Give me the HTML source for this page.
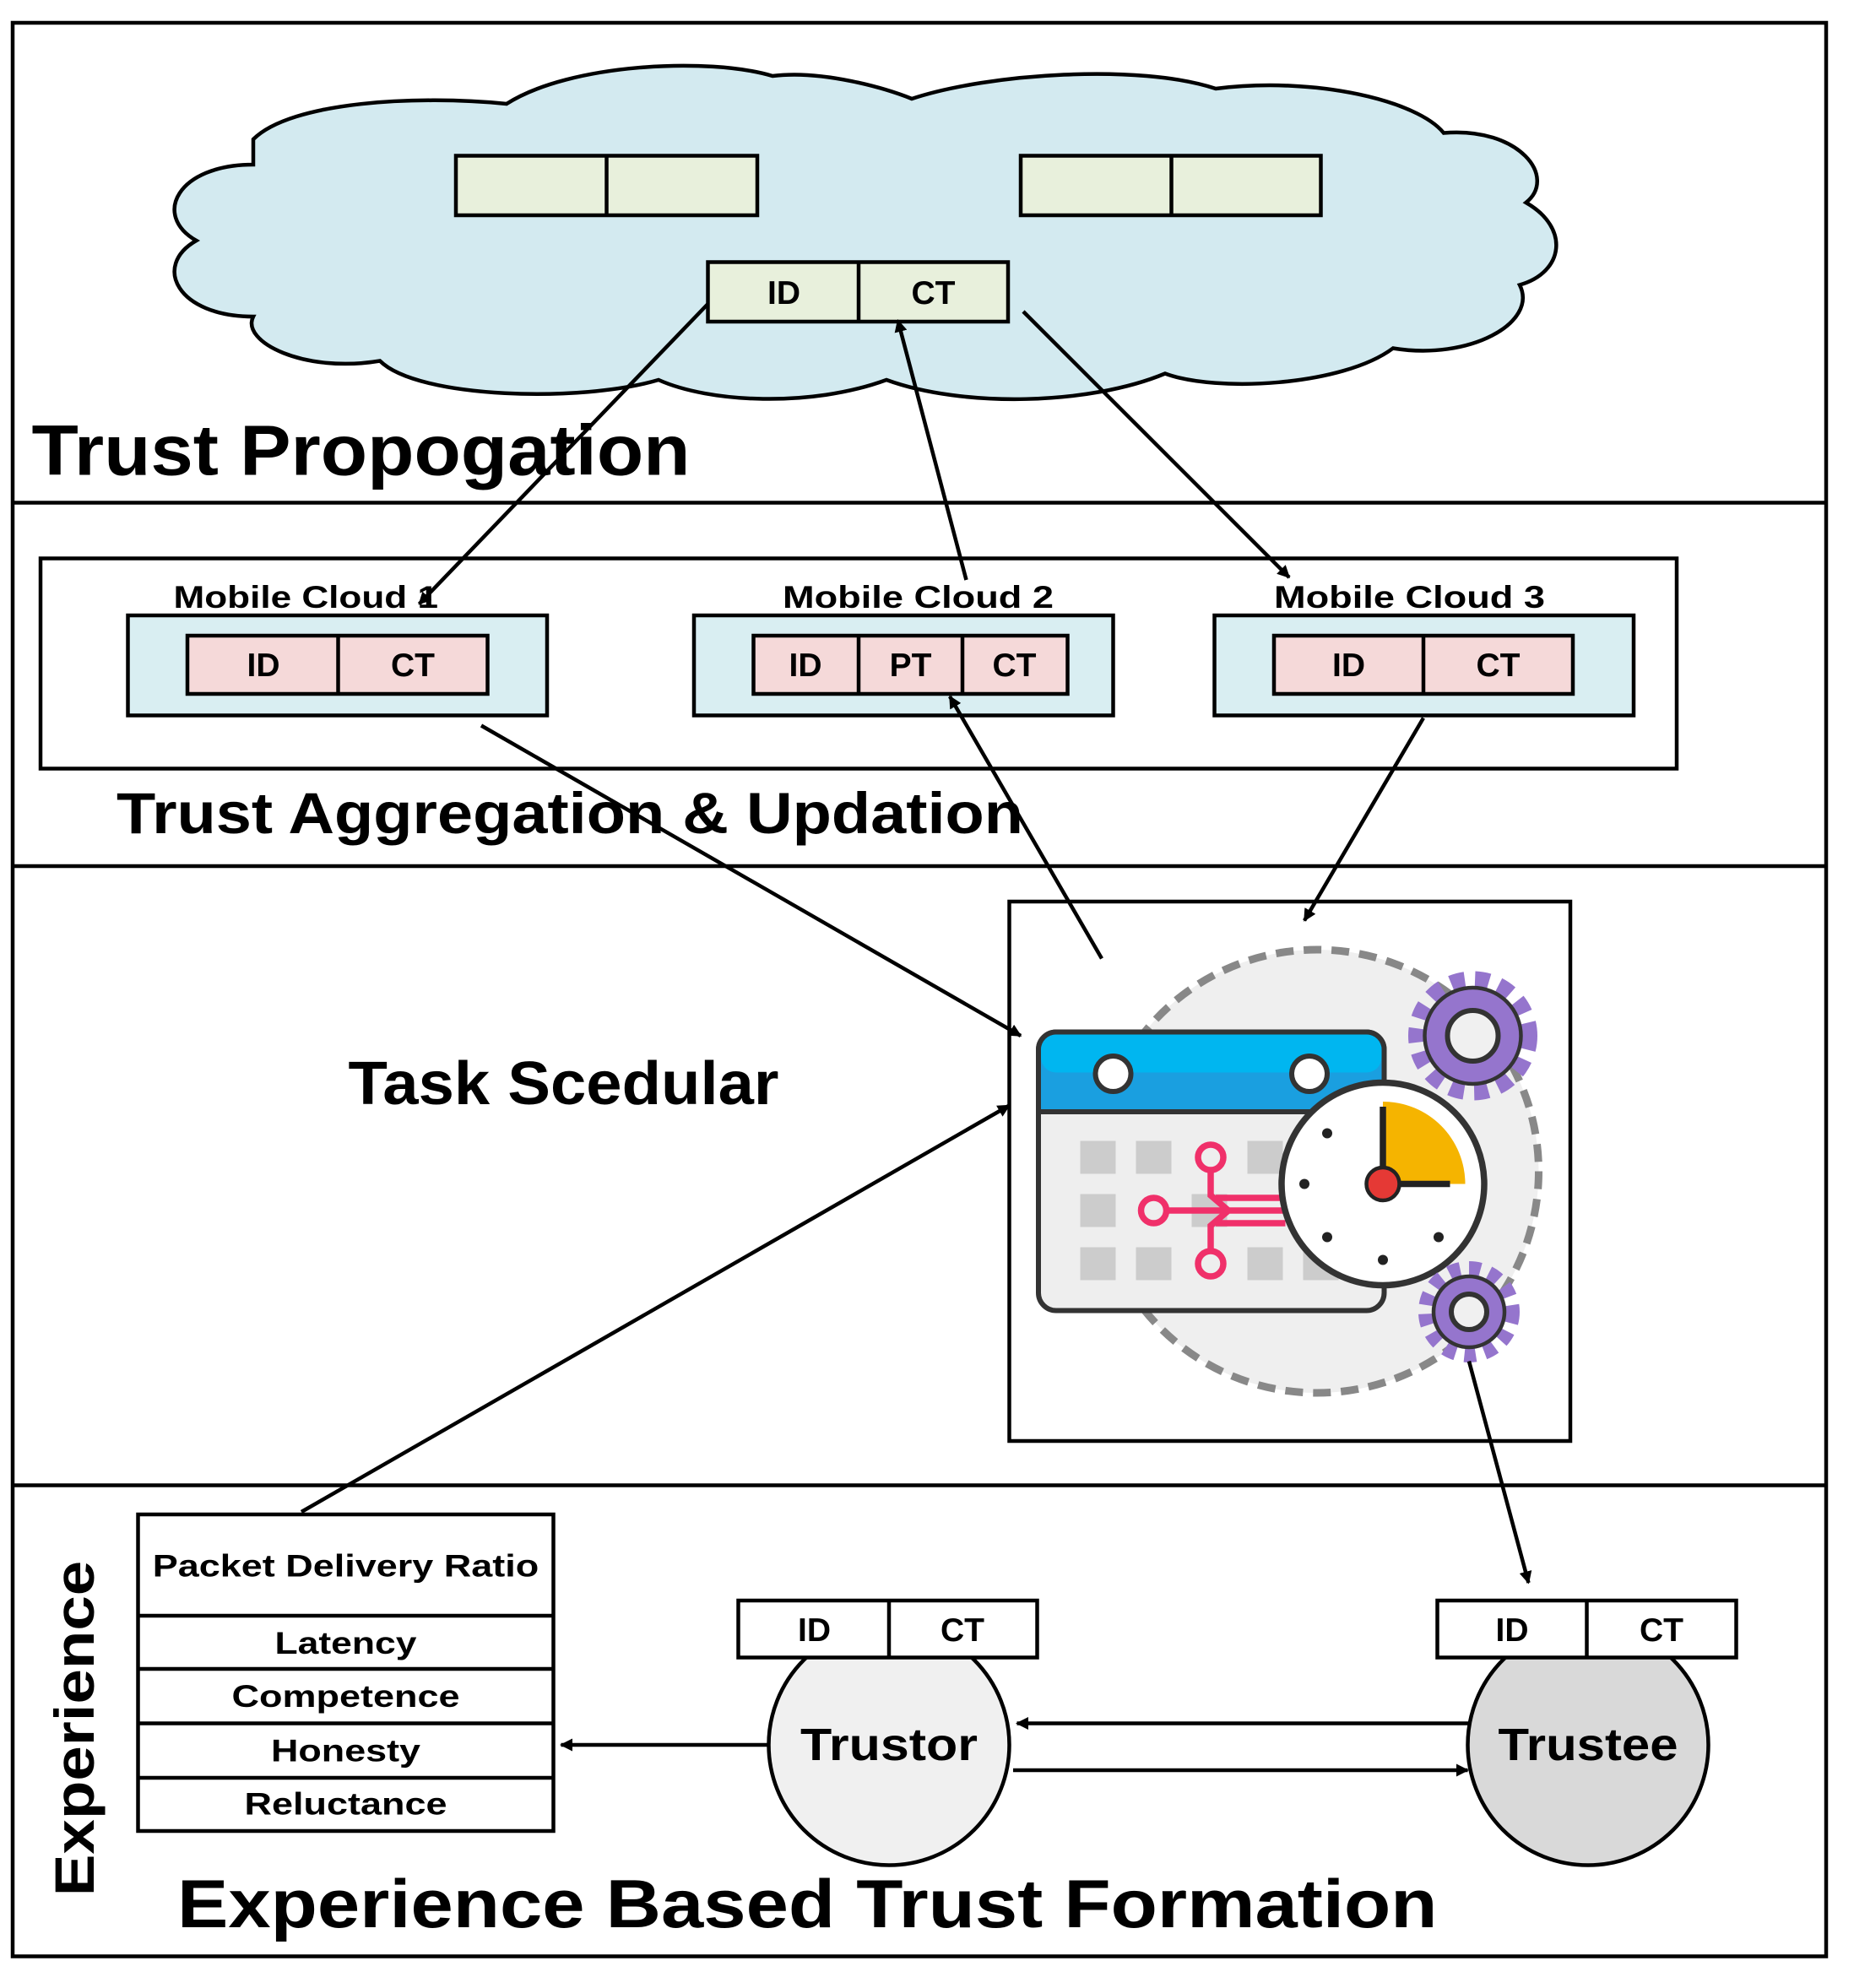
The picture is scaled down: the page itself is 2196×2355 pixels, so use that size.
<!DOCTYPE html>
<html><head><meta charset="utf-8"><style>
html,body{margin:0;padding:0;background:#fff;}
svg{display:block;}
text{font-family:"Liberation Sans",Arial,sans-serif;font-weight:bold;fill:#000;}
</style></head><body>
<svg width="2196" height="2355" viewBox="0 0 1464 1570" xmlns="http://www.w3.org/2000/svg">
<defs>
<marker id="ah" markerWidth="10" markerHeight="10" refX="9" refY="5" orient="auto" markerUnits="userSpaceOnUse" viewBox="0 0 10 10">
<path d="M0,0 L10,5 L0,10 z" fill="#000"/></marker>
</defs>
<rect x="0" y="0" width="1464" height="1570" fill="#fff"/>
<rect x="10" y="18" width="1432" height="1527" fill="none" stroke="#000" stroke-width="3"/>
<line x1="10" y1="397" x2="1442" y2="397" stroke="#000" stroke-width="3"/>
<line x1="10" y1="684" x2="1442" y2="684" stroke="#000" stroke-width="3"/>
<line x1="10" y1="1173" x2="1442" y2="1173" stroke="#000" stroke-width="3"/>

<path d="M200,110 C230,80 330,75 400,82 C450,50 560,45 610,60 C650,55 700,70 720,78 C780,58 900,50 960,70 C1040,60 1120,80 1140,105 C1200,100 1230,140 1205,160 C1240,180 1235,215 1200,225 C1215,255 1160,285 1100,275 C1060,305 960,310 920,295 C860,320 760,322 700,300 C640,322 560,318 520,300 C460,318 330,315 300,285 C240,295 190,270 200,250 C140,250 120,210 155,190 C120,170 140,130 200,130 Z" fill="#d3eaf0" stroke="#000" stroke-width="3"/>
<g stroke="#000" stroke-width="3" fill="#e8f0dc">
<rect x="360" y="123" width="238" height="47"/><line x1="479" y1="123" x2="479" y2="170"/>
<rect x="806" y="123" width="237" height="47"/><line x1="925" y1="123" x2="925" y2="170"/>
<rect x="559" y="207" width="237" height="47"/><line x1="678" y1="207" x2="678" y2="254"/>
</g>
<text x="619" y="240" font-size="26" text-anchor="middle">ID</text>
<text x="737" y="240" font-size="26" text-anchor="middle">CT</text>
<text x="25" y="375" font-size="56" textLength="520" lengthAdjust="spacingAndGlyphs">Trust Propogation</text>

<rect x="32" y="441" width="1292" height="166" fill="none" stroke="#000" stroke-width="3"/>
<g stroke="#000" stroke-width="3">
<rect x="101" y="486" width="331" height="79" fill="#d9eef2"/>
<rect x="548" y="486" width="331" height="79" fill="#d9eef2"/>
<rect x="959" y="486" width="331" height="79" fill="#d9eef2"/>
<rect x="148" y="502" width="237" height="46" fill="#f5d9d9"/><line x1="267" y1="502" x2="267" y2="548"/>
<rect x="595" y="502" width="248" height="46" fill="#f5d9d9"/><line x1="678" y1="502" x2="678" y2="548"/><line x1="760" y1="502" x2="760" y2="548"/>
<rect x="1006" y="502" width="236" height="46" fill="#f5d9d9"/><line x1="1124" y1="502" x2="1124" y2="548"/>
</g>
<g font-size="26" text-anchor="middle">
<text x="208" y="534">ID</text><text x="326" y="534">CT</text>
<text x="636" y="534">ID</text><text x="719" y="534">PT</text><text x="801" y="534">CT</text>
<text x="1065" y="534">ID</text><text x="1183" y="534">CT</text>
</g>
<g font-size="25">
<text x="137" y="480" textLength="209" lengthAdjust="spacingAndGlyphs">Mobile Cloud 1</text>
<text x="618" y="480" textLength="214" lengthAdjust="spacingAndGlyphs">Mobile Cloud 2</text>
<text x="1006" y="480" textLength="214" lengthAdjust="spacingAndGlyphs">Mobile Cloud 3</text>
</g>
<text x="92" y="658" font-size="46" textLength="716" lengthAdjust="spacingAndGlyphs">Trust Aggregation &amp; Updation</text>

<rect x="797" y="712" width="443" height="426" fill="#fff" stroke="#000" stroke-width="3"/>
<text x="275" y="872" font-size="48" textLength="340" lengthAdjust="spacingAndGlyphs">Task Scedular</text>
<circle cx="1040" cy="925" r="175" fill="#efefef" stroke="#888" stroke-width="6" stroke-dasharray="14,8"/>
<rect x="820" y="815" width="273" height="220" rx="14" fill="#eee" stroke="#333" stroke-width="4"/>
<path d="M834,815 H1079 A14,14 0 0 1 1093,829 V878 H820 V829 A14,14 0 0 1 834,815 Z" fill="#1a9fe0" stroke="#333" stroke-width="4"/>
<rect x="822" y="817" width="269" height="30" rx="12" fill="#00b6f0"/>
<circle cx="879" cy="848" r="14" fill="#fff" stroke="#333" stroke-width="4"/>
<circle cx="1034" cy="848" r="14" fill="#fff" stroke="#333" stroke-width="4"/>
<g fill="#ccc">
<rect x="853" y="901" width="28" height="26"/><rect x="897" y="901" width="28" height="26"/><rect x="985" y="901" width="28" height="26"/>
<rect x="853" y="943" width="28" height="26"/><rect x="941" y="943" width="28" height="26"/>
<rect x="853" y="985" width="28" height="26"/><rect x="897" y="985" width="28" height="26"/><rect x="985" y="985" width="28" height="26"/><rect x="1029" y="985" width="28" height="26"/>
</g>
<g stroke="#f0306a" stroke-width="5" fill="none">
<circle cx="956" cy="914" r="10"/><circle cx="911" cy="956" r="10"/><circle cx="956" cy="998" r="10"/>
<path d="M921,956 H1015 M956,924 V944 L970,956 M956,988 V968 L970,956 M960,946 H1015 M960,966 H1015"/>
</g>
<circle cx="1092" cy="935" r="80" fill="#fff" stroke="#333" stroke-width="5"/>
<path d="M1092,935 V870 A65,65 0 0 1 1157,935 Z" fill="#f5b400"/>
<path d="M1092,935 V874 M1092,935 H1145" stroke="#222" stroke-width="5"/>
<circle cx="1092" cy="935" r="13" fill="#e53935" stroke="#222" stroke-width="3"/>
<g fill="#222"><circle cx="1048" cy="895" r="4"/><circle cx="1030" cy="935" r="4"/><circle cx="1048" cy="977" r="4"/><circle cx="1092" cy="995" r="4"/><circle cx="1136" cy="977" r="4"/></g>
<g transform="translate(1163,818)">
<circle r="44" fill="none" stroke="#9575cd" stroke-width="14" stroke-dasharray="11,8"/>
<circle r="38" fill="#9575cd" stroke="#333" stroke-width="3"/>
<circle r="20" fill="#f0f0f0" stroke="#333" stroke-width="4"/>
</g>
<g transform="translate(1160,1036)">
<circle r="34" fill="none" stroke="#9575cd" stroke-width="12" stroke-dasharray="9,7"/>
<circle r="28" fill="#9575cd" stroke="#333" stroke-width="3"/>
<circle r="14" fill="#f0f0f0" stroke="#333" stroke-width="4"/>
</g>

<g stroke="#000" stroke-width="3" fill="#fff">
<rect x="109" y="1196" width="328" height="250"/>
<line x1="109" y1="1276" x2="437" y2="1276"/><line x1="109" y1="1318" x2="437" y2="1318"/>
<line x1="109" y1="1361" x2="437" y2="1361"/><line x1="109" y1="1404" x2="437" y2="1404"/>
</g>
<g font-size="25" text-anchor="middle">
<text x="273" y="1245" textLength="305" lengthAdjust="spacingAndGlyphs">Packet Delivery Ratio</text>
<text x="273" y="1306" textLength="112" lengthAdjust="spacingAndGlyphs">Latency</text>
<text x="273" y="1348" textLength="180" lengthAdjust="spacingAndGlyphs">Competence</text>
<text x="273" y="1391" textLength="118" lengthAdjust="spacingAndGlyphs">Honesty</text>
<text x="273" y="1433" textLength="160" lengthAdjust="spacingAndGlyphs">Reluctance</text>
</g>
<circle cx="702" cy="1378" r="95" fill="#f0f0f0" stroke="#000" stroke-width="3"/>
<circle cx="1254" cy="1378" r="95" fill="#d9d9d9" stroke="#000" stroke-width="3"/>
<g stroke="#000" stroke-width="3" fill="#fff">
<rect x="583" y="1264" width="236" height="45"/><line x1="702" y1="1264" x2="702" y2="1309"/>
<rect x="1135" y="1264" width="236" height="45"/><line x1="1253" y1="1264" x2="1253" y2="1309"/>
</g>
<g font-size="26" text-anchor="middle">
<text x="643" y="1296">ID</text><text x="760" y="1296">CT</text>
<text x="1194" y="1296">ID</text><text x="1312" y="1296">CT</text>
</g>
<text x="702" y="1390" font-size="36" text-anchor="middle" textLength="140" lengthAdjust="spacingAndGlyphs">Trustor</text>
<text x="1254" y="1390" font-size="36" text-anchor="middle" textLength="142" lengthAdjust="spacingAndGlyphs">Trustee</text>
<text transform="translate(74,1365) rotate(-90)" font-size="44" text-anchor="middle" textLength="265" lengthAdjust="spacingAndGlyphs">Experience</text>
<text x="140" y="1522" font-size="54" textLength="995" lengthAdjust="spacingAndGlyphs">Experience Based Trust Formation</text>

<g stroke="#000" stroke-width="3" fill="none" marker-end="url(#ah)">
<line x1="559" y1="240" x2="331" y2="477"/>
<line x1="763" y1="458" x2="709" y2="253"/>
<line x1="808" y1="246" x2="1018" y2="456"/>
<line x1="380" y1="573" x2="806" y2="818"/>
<line x1="870" y1="757" x2="750" y2="550"/>
<line x1="1124" y1="567" x2="1030" y2="727"/>
<line x1="238" y1="1194" x2="797" y2="873"/>
<line x1="1160" y1="1075" x2="1207" y2="1250"/>
<line x1="1160" y1="1361" x2="803" y2="1361"/>
<line x1="800" y1="1398" x2="1159" y2="1398"/>
<line x1="607" y1="1378" x2="443" y2="1378"/>
</g>
</svg>
</body></html>
